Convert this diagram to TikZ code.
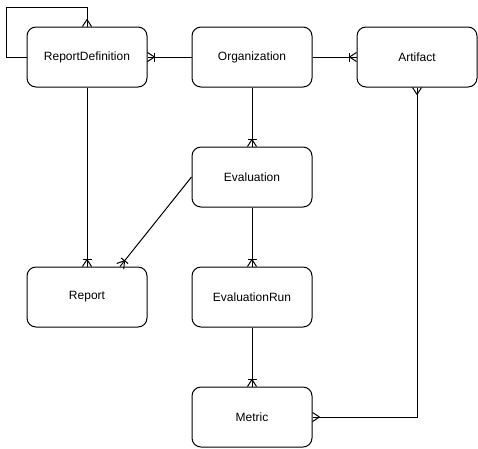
\documentclass[tikz,border=0pt]{standalone}
\usepackage{fontspec}
\setmainfont{Liberation Sans}
\usetikzlibrary{decorations.markings,calc}
\begin{document}
\begin{tikzpicture}[x=1pt,y=-1pt,
  ent/.style={draw, line width=1pt, rounded corners=9pt, minimum width=120pt, minimum height=60pt, font=\fontsize{12}{14}\selectfont},
  conn/.style={line width=1pt},
  crowend/.style={postaction={decorate, decoration={markings, mark=at position 1 with {\draw[line width=1pt] (-7pt,0) -- (0,4.5pt) (-7pt,0) -- (0,-4.5pt);}}}},
  barend/.style={postaction={decorate, decoration={markings, mark=at position 1 with {\draw[line width=1pt] (-7pt,-4.5pt) -- (-7pt,4.5pt);}}}},
  crowstart/.style={postaction={decorate, decoration={markings, mark=at position 0 with {\draw[line width=1pt] (7pt,0) -- (0,4.5pt) (7pt,0) -- (0,-4.5pt);}}}},
  onemany/.style={crowend, barend}
]
\fill[white] (0,0) rectangle (478,448);
\useasboundingbox (0,0) rectangle (478,448);
\node[ent] (RD) at (87,57) {ReportDefinition};
\node[ent] (Org) at (252,57) {Organization};
\node[ent] (Art) at (417,57) {Artifact};
\node[ent] (Eval) at (252,177) {Evaluation};
\node[ent] (Rep) at (87,297) {Report};
\node[ent] (Run) at (252,297) {EvaluationRun};
\node[ent] (Met) at (252,417) {Metric};
\draw[conn, crowend] (RD.west) -- ++(-20,0) -- ++(0,-50) -| (RD.north);
\draw[conn, onemany] (Org.west) -- (RD.east);
\draw[conn, onemany] (Org.east) -- (Art.west);
\draw[conn, onemany] (Org.south) -- (Eval.north);
\draw[conn, onemany] (Eval.south) -- (Run.north);
\draw[conn, onemany] (Run.south) -- (Met.north);
\draw[conn, onemany] (RD.south) -- (Rep.north);
\draw[conn, onemany] (Eval.west) -- ([xshift=33pt]Rep.north);
\draw[conn, crowstart, crowend] (Art.south) |- (Met.east);
\end{tikzpicture}
\end{document}
